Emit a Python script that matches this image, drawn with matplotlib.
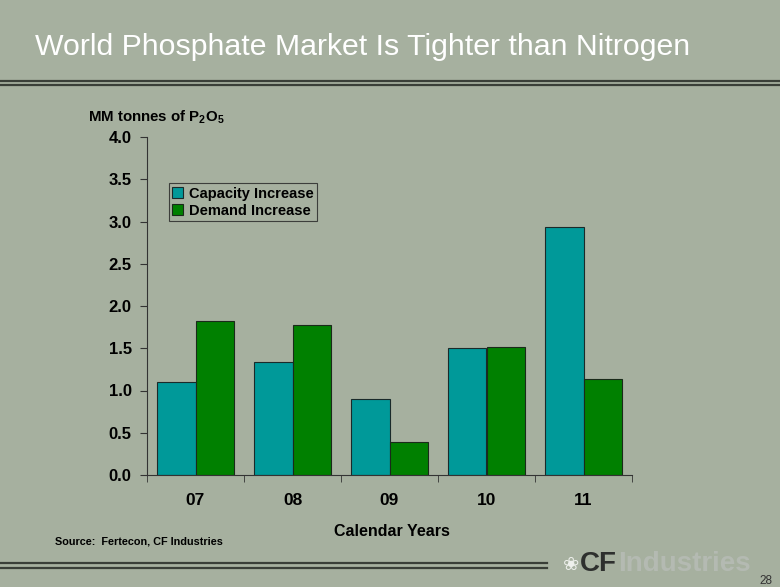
import numpy as np
import matplotlib
matplotlib.use("Agg")
import matplotlib.pyplot as plt
from matplotlib.lines import Line2D

# data
years = ["07", "08", "09", "10", "11"]
capacity = [1.10, 1.34, 0.90, 1.50, 2.94]
demand = [1.82, 1.77, 0.39, 1.51, 1.14]

bg = "#a6b09f"
teal = "#009999"
green = "#008000"

plt.rcParams["font.family"] = ["Liberation Sans", "DejaVu Sans"]
plt.rcParams["mathtext.fontset"] = "custom"
plt.rcParams["mathtext.bf"] = "Liberation Sans:bold"
plt.rcParams["mathtext.rm"] = "Liberation Sans:bold"

fig = plt.figure(figsize=(7.8, 5.87), dpi=100, facecolor=bg)

# title and decoration lines
fig.text(35/780, 1 - 47/587, "World Phosphate Market Is Tighter than Nitrogen",
         color="white", fontsize=21.8, va="center", ha="left")
for y in [81.5, 85.5]:
    fig.add_artist(Line2D([0, 1], [1 - y/587, 1 - y/587], color="#3a3f38", lw=1.6,
                          transform=fig.transFigure))
for y in [562.5, 567.5]:
    fig.add_artist(Line2D([0, 547/780], [1 - y/587, 1 - y/587], color="#3a3f38", lw=1.6,
                          transform=fig.transFigure))

ax = fig.add_axes([147/780, 1 - 475/587, 485/780, 338/587])
ax.set_facecolor(bg)

x = np.arange(len(years))
w = 0.4
ax.bar(x - w/2, capacity, w, color=teal, edgecolor="#1a2a2a", lw=0.8, label="Capacity Increase")
ax.bar(x + w/2, demand, w, color=green, edgecolor="#1a2a1a", lw=0.8, label="Demand Increase")

ax.set_xlim(-0.5, len(years) - 0.5)
ax.set_ylim(0, 4.0)
yt = np.arange(0, 4.01, 0.5)
ax.set_yticks(yt)
ax.set_yticklabels([f"{v:.1f}" for v in yt], fontsize=12, fontweight="bold")
ax.set_xticks(x)
ax.set_xticklabels(years, fontsize=12.5, fontweight="bold")
ax.set_xticks(np.arange(-0.5, len(years)), minor=True)
ax.tick_params(axis="x", which="major", length=0, pad=13)
ax.tick_params(axis="x", which="minor", length=5, direction="out", color="#333333")
ax.tick_params(axis="y", length=5, direction="out", color="#333333", pad=6)
for s in ["top", "right"]:
    ax.spines[s].set_visible(False)
for s in ["left", "bottom"]:
    ax.spines[s].set_color("#333333")

fig.text(392/780, 1 - 531/587, "Calendar Years", fontsize=11.5, fontweight="bold",
         va="center", ha="center")

leg = ax.legend(loc="upper left", bbox_to_anchor=(0.045, 0.864), borderaxespad=0,
                frameon=True, fancybox=False, edgecolor="#222222", facecolor=bg,
                prop={"weight": "bold", "size": 10.5},
                handlelength=0.7, handleheight=0.7, handletextpad=0.4,
                borderpad=0.25, labelspacing=0.2)
leg.get_frame().set_linewidth(0.8)

fig.text(88/780, 1 - 117/587, r"MM tonnes of P$_\mathbf{2}$O$_\mathbf{5}$",
         fontsize=10.8, fontweight="bold", va="center", ha="left")
fig.text(55/780, 1 - 542/587, "Source:  Fertecon, CF Industries",
         fontsize=7.8, fontweight="bold", va="center", ha="left")

# logo and page number
fig.text(580/780, 1 - 564/587, "CF", fontsize=20, fontweight="bold", color="#2e302e",
         va="center", ha="left")
fig.text(618/780, 1 - 564/587, "Industries", fontsize=20, fontweight="bold", color="#b4bab2",
         va="center", ha="left")
fig.text(571/780, 1 - 564/587, "\u2740", fontsize=14, color="#eef0ec",
         family="DejaVu Sans", va="center", ha="center")
fig.text(772/780, 1 - 581/587, "28", fontsize=8.5, color="#333333", va="center", ha="right")

fig.savefig("out.png", dpi=100, facecolor=bg)
